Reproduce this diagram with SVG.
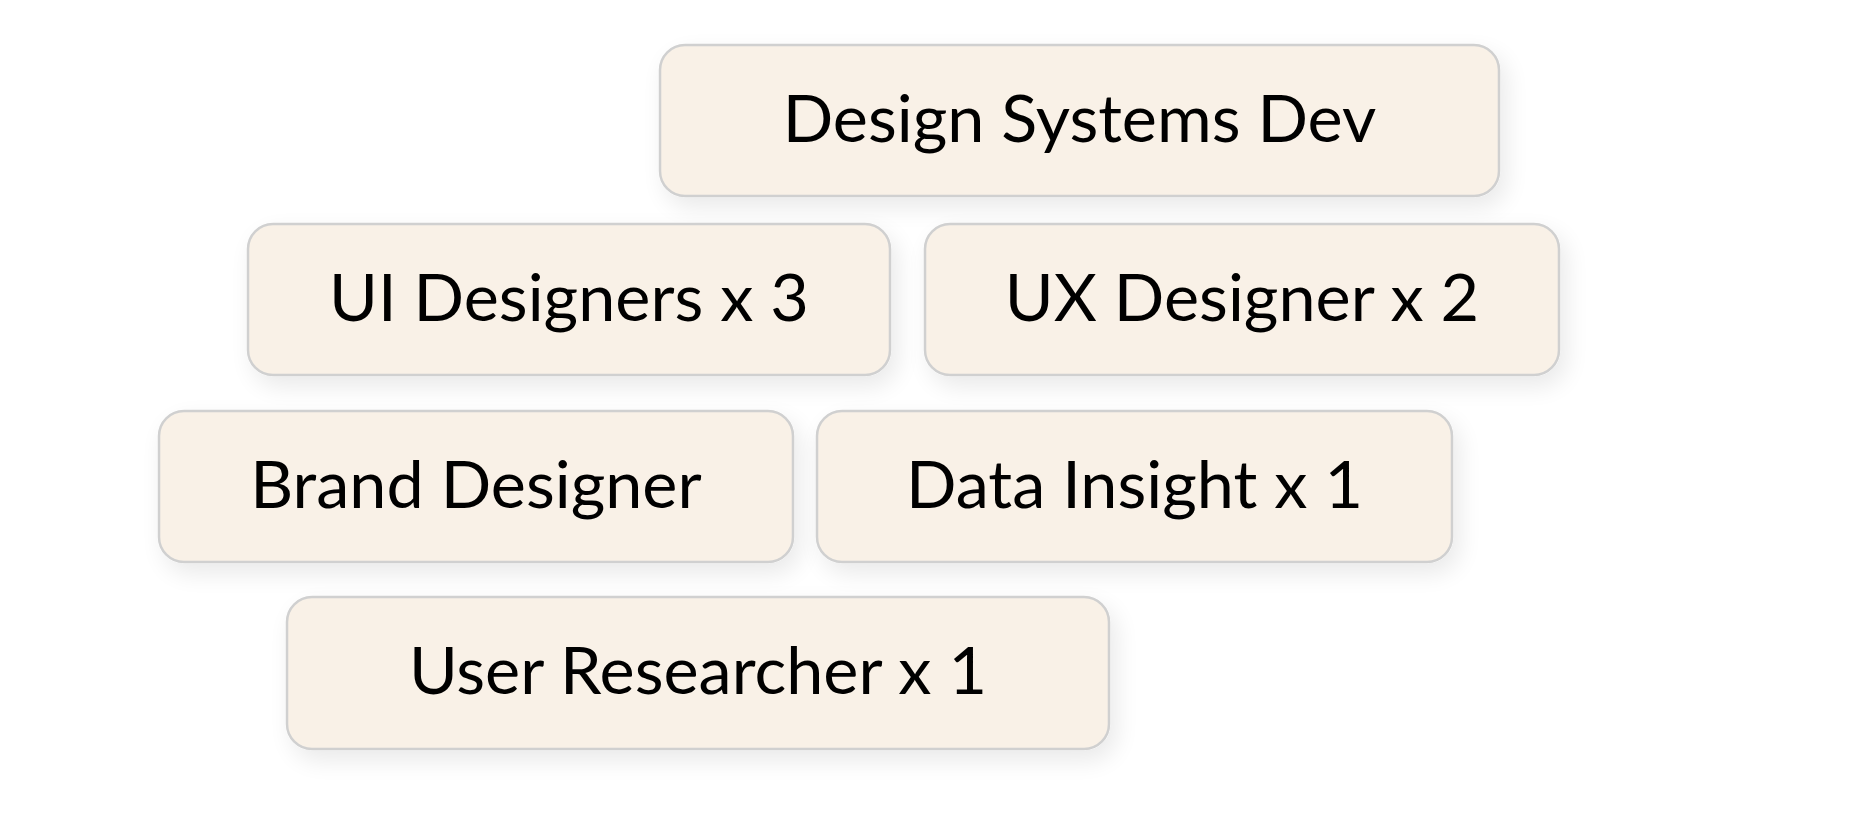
<svg xmlns="http://www.w3.org/2000/svg" width="1860" height="834" viewBox="0 0 1860 834">
<defs>
<filter id="sh" x="-10%" y="-20%" width="125%" height="160%">
<feGaussianBlur in="SourceAlpha" stdDeviation="12"/>
<feOffset dx="6" dy="10" result="b"/>
<feComponentTransfer><feFuncA type="linear" slope="0.09"/></feComponentTransfer>
<feMerge><feMergeNode/><feMergeNode in="SourceGraphic"/></feMerge>
</filter>
</defs>
<style>
.box{fill:#f9f1e7;stroke:#d0d0d0;stroke-width:2.5;filter:url(#sh)}
.lbl{font-family:Lato,"Noto Sans",sans-serif;font-size:66.5px;fill:#000;text-anchor:middle}
</style>
<rect width="1860" height="834" fill="#ffffff"/>
<g id="connectors"/>
<g id="n1"><rect class="box" x="660" y="45" width="839" height="151" rx="25"/><text class="lbl" x="1079.5" y="142">Design Systems Dev</text></g>
<g id="n2"><rect class="box" x="248" y="224" width="642" height="151" rx="25"/><text class="lbl" x="569" y="321">UI Designers x 3</text></g>
<g id="n3"><rect class="box" x="925" y="224" width="634" height="151" rx="25"/><text class="lbl" x="1242" y="321">UX Designer x 2</text></g>
<g id="n4"><rect class="box" x="159" y="411" width="634" height="151" rx="25"/><text class="lbl" x="476" y="508">Brand Designer</text></g>
<g id="n5"><rect class="box" x="817" y="411" width="635" height="151" rx="25"/><text class="lbl" x="1134.5" y="508">Data Insight x 1</text></g>
<g id="n6"><rect class="box" x="287" y="597" width="822" height="152" rx="25"/><text class="lbl" x="698" y="694">User Researcher x 1</text></g>
</svg>
